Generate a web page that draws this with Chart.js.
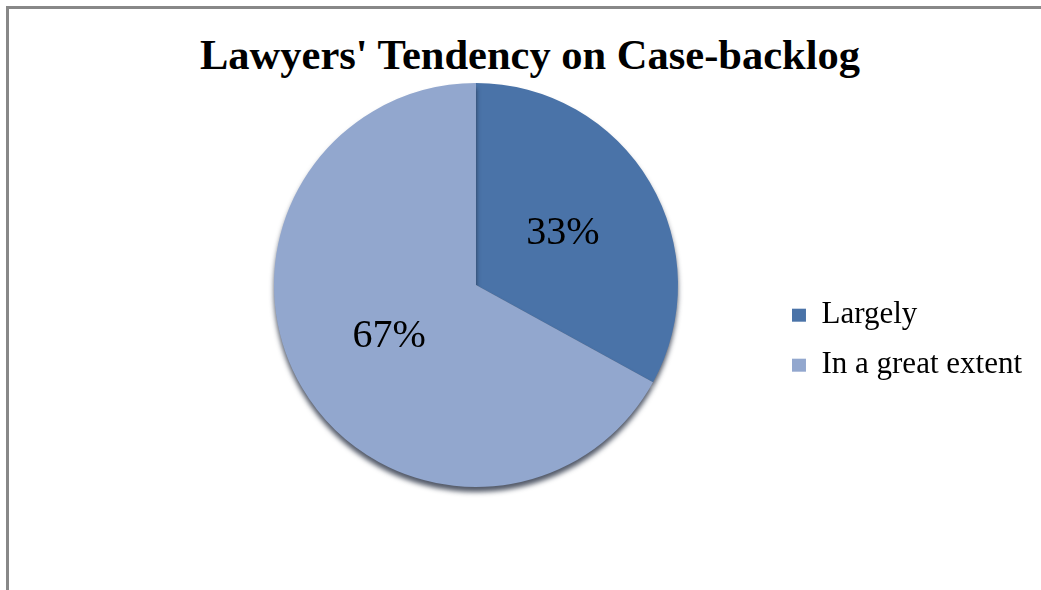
<!DOCTYPE html>
<html>
<head>
<meta charset="utf-8">
<script src="https://cdn.jsdelivr.net/npm/chart.js@4"></script>
<style>
  body { margin: 0; background: #fff; }
  #wrap { position: relative; width: 1041px; height: 590px; overflow: hidden; }
  #frame { position: absolute; left: 6px; top: 6px; width: 1100px; height: 700px; border: 3px solid #888; box-sizing: border-box; }
  #title { position: absolute; left: 20px; width: 1020px; top: 34px; text-align: center;
           font: bold 42.5px 'Liberation Serif', 'Times New Roman', serif; line-height: 42.5px; color: #000; }
  canvas { position: absolute; left: 0; top: 0; }
</style>
</head>
<body>
<div id="wrap">
  <div id="frame"></div>
  <div id="title">Lawyers' Tendency on Case-backlog</div>
  <canvas id="pie" width="1041" height="590"></canvas>
</div>
<script>
const categories = ['Largely', 'In a great extent'];
const shares = [33, 67];
const colors = ['#4A73A8', '#92A7CE'];

// soft drop shadow under the pie
const pieShadow = {
  id: 'pieShadow',
  beforeDatasetsDraw(chart) {
    const ctx = chart.ctx;
    ctx.save();
    ctx.shadowColor = 'rgba(25,35,55,0.75)';
    ctx.shadowBlur = 5;
    ctx.shadowOffsetY = 5;
  },
  afterDatasetsDraw(chart) {
    chart.ctx.restore();
  }
};

// percent text in the middle of each slice
const sliceLabels = {
  id: 'sliceLabels',
  afterDatasetsDraw(chart) {
    const ctx = chart.ctx;
    const meta = chart.getDatasetMeta(0);
    ctx.save();
    ctx.font = '40px "Liberation Serif", "Times New Roman", serif';
    ctx.fillStyle = '#000';
    ctx.textAlign = 'center';
    ctx.textBaseline = 'middle';
    meta.data.forEach((arc, i) => {
      const p = arc.getCenterPoint();
      ctx.fillText(shares[i] + '%', p.x, p.y);
    });
    ctx.restore();
  }
};

new Chart(document.getElementById('pie'), {
  type: 'pie',
  data: {
    labels: categories,
    datasets: [{
      data: shares,
      backgroundColor: colors,
      borderWidth: 0
    }]
  },
  options: {
    responsive: false,
    animation: false,
    layout: { padding: { left: 179, right: 9, top: 83, bottom: 103 } },
    plugins: {
      tooltip: { enabled: false },
      legend: {
        position: 'right',
        title: { display: true, text: '', padding: { top: 96, bottom: 0 } },
        labels: {
          color: '#000',
          boxWidth: 14,
          boxHeight: 13,
          padding: 19,
          font: { family: '"Liberation Serif", "Times New Roman", serif', size: 31 }
        }
      }
    }
  },
  plugins: [pieShadow, sliceLabels]
});
</script>
</body>
</html>
